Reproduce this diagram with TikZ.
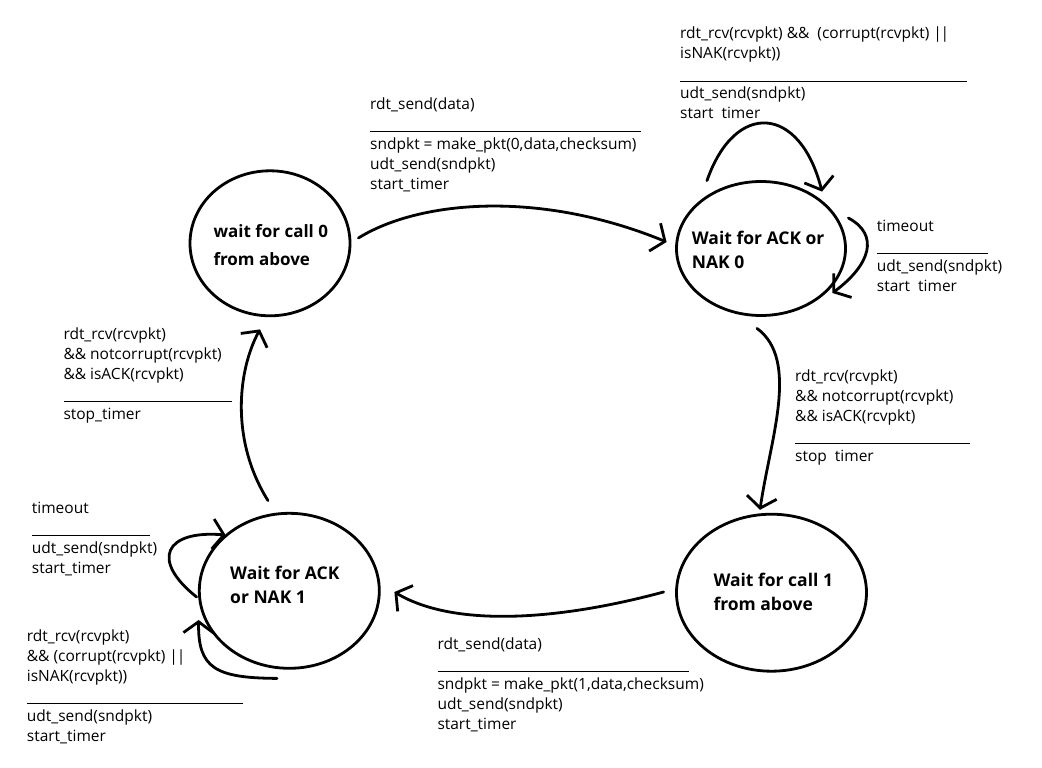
\documentclass[tikz,border=0pt]{standalone}
\usepackage{fontspec}
\setmainfont{Open Sans}
\usetikzlibrary{shapes.geometric,arrows.meta,calc}
\newcommand\orbar{|\kern-1.2pt|}
\begin{document}
\begin{tikzpicture}[x=1pt,y=-1pt,
  state/.style={draw=black, ellipse, line width=2.8pt, inner sep=0pt},
  stext/.style={anchor=base west, inner sep=0pt},
  lbl/.style={anchor=base west, inner sep=0pt, font=\fontsize{15.5}{20}\selectfont},
  conn/.style={line width=2.8pt, line cap=round, line join=round, -{Straight Barb[length=11pt,width=30pt]}}
]
\useasboundingbox[fill=white] (0,0) rectangle (1042,768);

% states
\node[state, minimum width=160pt, minimum height=145pt] (C0) at (270,243.3) {};
\node[state, minimum width=169pt, minimum height=134pt] (C1) at (761,248.5) {};
\node[state, minimum width=190pt, minimum height=157pt] (C2) at (771.5,592.7) {};
\node[state, minimum width=180pt, minimum height=155pt] (C3) at (289.3,590.8) {};

% state texts
\node[stext, font=\bfseries\fontsize{17}{28.7}\selectfont] (T0) at (213.3,237)
  {\begin{tabular}[t]{@{}l@{}}wait for call 0\\from above\end{tabular}};
\node[stext, font=\bfseries\fontsize{17.5}{24}\selectfont] (T1) at (691.7,244)
  {\begin{tabular}[t]{@{}l@{}}Wait for ACK or\\NAK 0\end{tabular}};
\node[stext, font=\bfseries\fontsize{17.5}{24.7}\selectfont] (T2) at (713.3,586)
  {\begin{tabular}[t]{@{}l@{}}Wait for call 1\\from above\end{tabular}};
\node[stext, font=\bfseries\fontsize{17.5}{24}\selectfont] (T3) at (230,579)
  {\begin{tabular}[t]{@{}l@{}}Wait for ACK\\or NAK 1\end{tabular}};

% transition labels
\node[lbl] (LA) at (370,109.3) {\begin{tabular}[t]{@{}l@{}}
rdt\_send(data)\\
\rule[-3pt]{271pt}{1.1pt}\\
sndpkt = make\_pkt(0,data,checksum)\\
udt\_send(sndpkt)\\
start\_timer\end{tabular}};

\node[lbl] (LB) at (680,39) {\begin{tabular}[t]{@{}l@{}}
rdt\_rcv(rcvpkt) \&\&\ \ (corrupt(rcvpkt) \orbar\\
isNAK(rcvpkt))\\
\rule[-3pt]{287pt}{1.1pt}\\
udt\_send(sndpkt)\\
start\ \ timer\end{tabular}};

\node[lbl] (LC) at (876.7,231) {\begin{tabular}[t]{@{}l@{}}
timeout\\
\rule[-3pt]{111pt}{1.1pt}\\
udt\_send(sndpkt)\\
start\ \ timer\end{tabular}};

\node[lbl] (LD) at (795,381) {\begin{tabular}[t]{@{}l@{}}
rdt\_rcv(rcvpkt)\\
\&\& notcorrupt(rcvpkt)\\
\&\& isACK(rcvpkt)\\
\rule[-3pt]{175pt}{1.1pt}\\
stop\ \ timer\end{tabular}};

\node[lbl] (LE) at (63.3,339) {\begin{tabular}[t]{@{}l@{}}
rdt\_rcv(rcvpkt)\\
\&\& notcorrupt(rcvpkt)\\
\&\& isACK(rcvpkt)\\
\rule[-3pt]{168pt}{1.1pt}\\
stop\_timer\end{tabular}};

\node[lbl] (LF) at (31.7,513) {\begin{tabular}[t]{@{}l@{}}
timeout\\
\rule[-3pt]{118pt}{1.1pt}\\
udt\_send(sndpkt)\\
start\_timer\end{tabular}};

\node[lbl] (LG) at (26.7,641) {\begin{tabular}[t]{@{}l@{}}
rdt\_rcv(rcvpkt)\\
\&\& (corrupt(rcvpkt) \orbar\\
isNAK(rcvpkt))\\
\rule[-3pt]{216pt}{1.1pt}\\
udt\_send(sndpkt)\\
start\_timer\end{tabular}};

\node[lbl] (LH) at (437.3,649) {\begin{tabular}[t]{@{}l@{}}
rdt\_send(data)\\
\rule[-3pt]{251pt}{1.1pt}\\
sndpkt = make\_pkt(1,data,checksum)\\
udt\_send(sndpkt)\\
start\_timer\end{tabular}};

% transitions between states
\draw[conn] ($(C0.east)+(7,-5.3)$) .. controls (420,200) and (540,190) .. ($(C1.west)+(-8.5,-6.5)$);
\draw[conn] ($(C1.south)+(-4,11.5)$) .. controls (800,360) and (770,440) .. ($(C2.north)+(-11.5,-3)$);
\draw[conn] ($(C2.west)+(-11.5,-0.7)$) .. controls (560,620) and (455,628) .. ($(C3.east)+(13.7,1.2)$);
\draw[conn] ($(C3.north)+(-21.3,-11.3)$) .. controls (230,440) and (238,370) .. ($(C0.south)+(-10,12.2)$);

% self loops
\draw[conn] ($(C1.north)+(-54,0.5)$) .. controls (735,100) and (800,105) .. ($(C1.north)+(61,11.5)$);
\draw[conn] ($(C1.east)+(1.5,-30.5)$) .. controls (880,235) and (870,265) .. ($(C1.east)+(-14.5,44.5)$);
\draw[conn] ($(C3.west)+(-1.3,6.2)$) .. controls (150,560) and (165,530) .. ($(C3.west)+(27.7,-55.8)$);
\draw[conn] ($(C3.south)+(-12.3,8.7)$) .. controls (215,678) and (198,668) .. ($(C3.west)+(0.7,29.2)$);
\end{tikzpicture}
\end{document}
